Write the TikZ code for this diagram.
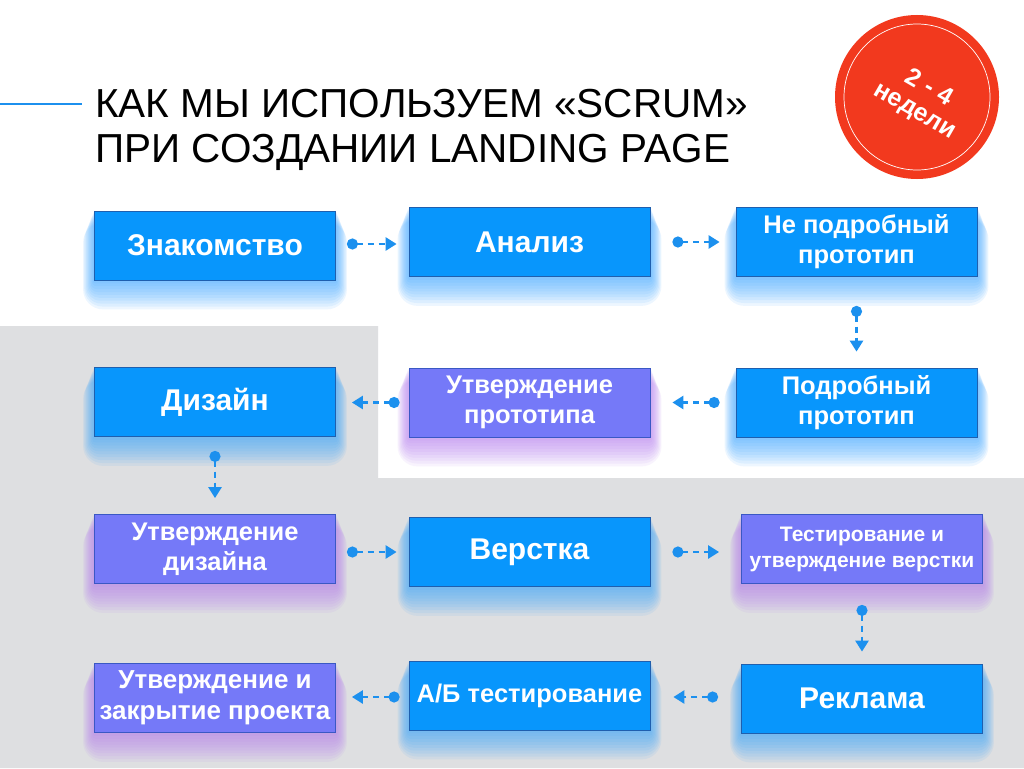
\documentclass[tikz,border=0pt]{standalone}
\usepackage{fontspec}
\setmainfont{Liberation Sans}
\usetikzlibrary{arrows.meta,calc}
\definecolor{boxblue}{HTML}{0896FC}
\definecolor{boxblueedge}{HTML}{1F5FAE}
\definecolor{boxpurple}{HTML}{7579F8}
\definecolor{boxpurpleedge}{HTML}{3A58C4}
\definecolor{glowblue}{HTML}{3AA6FF}
\definecolor{glowpurple}{HTML}{B57CF0}
\definecolor{connblue}{HTML}{1C90EE}
\definecolor{graybg}{HTML}{DEDFE1}
\definecolor{redc}{HTML}{F2391E}
\pgfdeclarelayer{bg}
\pgfdeclarelayer{glow}
\pgfsetlayers{bg,glow,main}
\tikzset{
  bluebox/.style={draw=boxblueedge, fill=boxblue, line width=0.8pt,
    minimum width=241pt, minimum height=69pt, inner sep=0pt, align=center,
    text=white, font=\bfseries\fontsize{30}{30}\selectfont},
  purplebox/.style={bluebox, fill=boxpurple, draw=boxpurpleedge},
  twoline/.style={font=\bfseries\fontsize{25.5}{30}\selectfont},
  smallline/.style={font=\bfseries\fontsize{21}{26}\selectfont},
  badgetxt/.style={rotate=-30, text=white, inner sep=0pt, font=\bfseries\fontsize{25}{30}\selectfont},
  conn/.style={draw=connblue, line width=2.6pt, dash pattern=on 6pt off 5pt,
    {Circle[length=11pt,width=11pt]}-{Triangle[length=11pt,width=13pt]}},
}
\begin{document}
\begin{tikzpicture}[x=1pt,y=-1pt]
\useasboundingbox (0,0) rectangle (1024,768);
\begin{pgfonlayer}{bg}
  \fill[white] (0,0) rectangle (1024,768);
  \fill[graybg] (0,326) -- (378,326) -- (378,478) -- (1024,478) -- (1024,768) -- (0,768) -- cycle;
\end{pgfonlayer}

% title
\coordinate (tl) at (0,104);
\draw[connblue, line width=1.6pt] (tl) -- ++(82,0);
\node[anchor=base west, inner sep=0pt, font=\fontsize{40.5}{45}\selectfont] (t1) at (95,117) {КАК МЫ ИСПОЛЬЗУЕМ «SCRUM»};
\node[anchor=base west, inner sep=0pt, font=\fontsize{40.5}{45}\selectfont] (t2) at (95,162) {ПРИ СОЗДАНИИ LANDING PAGE};

% badge
\node[circle, fill=redc, minimum size=164pt, inner sep=0pt] (badge) at (917,97) {};
\draw[white, line width=0.7pt] (badge.center) circle (73pt);
\node[badgetxt] (badge1) at (930,86) {2 - 4};
\node[badgetxt] (badge2) at (914,113) {недели};

% boxes
\node[bluebox] (b1) at (215,245.5) {Знакомство};
\node[bluebox] (b2) at (529.5,242) {Анализ};
\node[bluebox, twoline] (b3) at (856.5,242) {Не подробный\\прототип};
\node[bluebox, twoline] (b4) at (856.5,402.5) {Подробный\\прототип};
\node[purplebox, twoline] (b5) at (529.5,402.5) {Утверждение\\прототипа};
\node[bluebox] (b6) at (215,402) {Дизайн};
\node[purplebox, twoline] (b7) at (215,549) {Утверждение\\дизайна};
\node[bluebox] (b8) at (529.5,552) {Верстка};
\node[purplebox, smallline] (b9) at (862,549) {Тестирование и\\утверждение верстки};
\node[bluebox] (b10) at (862,698.5) {Реклама};
\node[bluebox, twoline] (b11) at (529.5,695.5) {А/Б тестирование};
\node[purplebox, font=\bfseries\fontsize{26}{31}\selectfont] (b12) at (215,698) {Утверждение и\\закрытие проекта};

% glows
\begin{pgfonlayer}{glow}
\foreach \n/\c in {b1/glowblue,b2/glowblue,b3/glowblue,b4/glowblue,b5/glowpurple,b6/glowblue,b7/glowpurple,b8/glowblue,b9/glowpurple,b10/glowblue,b11/glowblue,b12/glowpurple}{
  \foreach \i in {1,...,10}{
    \fill[\c, opacity=0.09, rounded corners=2*\i] ($(\n.north west)+(-1.1*\i,1.2*\i)$) rectangle ($(\n.south east)+(1.1*\i,2.9*\i)$);
  }
}
\end{pgfonlayer}

% connectors
\draw[conn] ($(b1.east |- b2.east)+(11,2)$) -- ($(b2.west)+(-12,2)$);
\draw[conn] ($(b2.east)+(22,0)$) -- ($(b3.west)+(-16,0)$);
\draw[conn] ($(b3.south)+(0,29)$) -- ($(b4.north)+(0,-16)$);
\draw[conn] ($(b4.west)+(-16,0)$) -- ($(b5.east)+(22,0)$);
\draw[conn] ($(b5.west)+(-9,0)$) -- ($(b6.east |- b5.west)+(16,0)$);
\draw[conn] ($(b6.south)+(0,14)$) -- ($(b7.north)+(0,-16)$);
\draw[conn] ($(b7.east |- b8.east)+(11,0)$) -- ($(b8.west)+(-12,0)$);
\draw[conn] ($(b8.east)+(22,0)$) -- ($(b9.west |- b8.east)+(-22,0)$);
\draw[conn] ($(b9.south)+(0,21)$) -- ($(b10.north)+(0,-12)$);
\draw[conn] ($(b10.west)+(-23,-1.5)$) -- ($(b11.east |- b10.west)+(23,-1.5)$);
\draw[conn] ($(b11.west)+(-9,1.5)$) -- ($(b12.east |- b11.west)+(16,1.5)$);
\end{tikzpicture}
\end{document}
